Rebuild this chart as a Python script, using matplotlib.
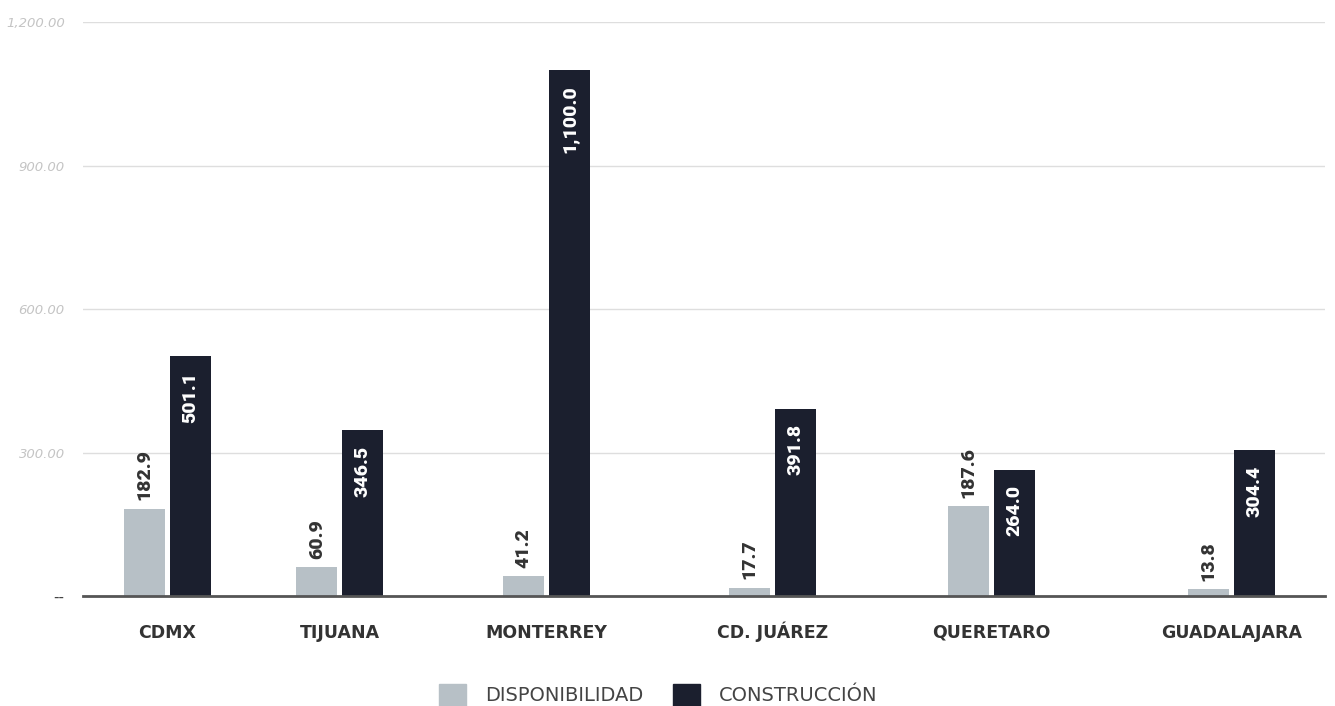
# Disponibilidad vs construcción por ciudad
import numpy as np
import matplotlib.pyplot as plt
from matplotlib.patches import Patch
from matplotlib.ticker import FuncFormatter

# Datos
ciudades = ['CDMX', 'TIJUANA', 'MONTERREY', 'CD. JUÁREZ', 'QUERETARO', 'GUADALAJARA']
disponibilidad = [182.9, 60.9, 41.2, 17.7, 187.6, 13.8]
construccion = [501.1, 346.5, 1100.0, 391.8, 264.0, 304.4]
series = ['DISPONIBILIDAD', 'CONSTRUCCIÓN']

# Centros de cada grupo sobre el eje (fracción del ancho)
centros = np.array([0.068, 0.207, 0.373, 0.555, 0.7315, 0.9245])
ancho = 0.033
sep = 0.0185

c_gris = '#b7c0c6'
c_osc = '#1b1f2e'

fig = plt.figure(figsize=(13.35, 7.06), dpi=100)
ax = fig.add_axes([0.062, 0.1558, 0.9305, 0.813])

b1 = ax.bar(centros - sep, disponibilidad, ancho, color=c_gris, zorder=3)
b2 = ax.bar(centros + sep, construccion, ancho, color=c_osc, zorder=3)

# Etiquetas de valor
for r, v in zip(b1, disponibilidad):
    ax.annotate(f'{v:,.1f}', (r.get_x() + r.get_width() / 2, v),
                xytext=(0, 6), textcoords='offset points', rotation=90,
                ha='center', va='bottom', color='#333333',
                fontsize=14, fontweight='black', family='Roboto')
for r, v in zip(b2, construccion):
    ax.annotate(f'{v:,.1f}', (r.get_x() + r.get_width() / 2, v),
                xytext=(0, -11), textcoords='offset points', rotation=90,
                ha='center', va='top', color='white',
                fontsize=14, fontweight='black', family='Roboto')

ax.set_xlim(0, 1)
ax.set_ylim(0, 1200)
ax.set_yticks([0, 300, 600, 900, 1200])
ax.yaxis.set_major_formatter(FuncFormatter(lambda v, p: '--' if v == 0 else f'{v:,.2f}'))
for t in ax.get_yticklabels():
    t.set_fontstyle('italic')
    t.set_color('#c4c4c4')
    t.set_fontsize(9.5)
cero = ax.get_yticklabels()[0]
cero.set_color('#444444')
cero.set_fontstyle('normal')
cero.set_fontsize(11)
ax.tick_params(axis='y', length=0, pad=13)

ax.set_xticks(centros)
ax.set_xticklabels(ciudades, fontsize=12.5, fontweight='bold', color='#333333')
for t in ax.get_xticklabels():
    t.set_va('baseline')
ax.tick_params(axis='x', length=0, pad=30)

ax.grid(axis='y', color='#dedede', linewidth=1, zorder=0)
for s in ['top', 'right', 'left']:
    ax.spines[s].set_visible(False)
ax.spines['bottom'].set_color('#555555')
ax.spines['bottom'].set_linewidth(2)
ax.spines['bottom'].set_zorder(4)

handles = [Patch(color=c_gris), Patch(color=c_osc)]
fig.legend(handles, series, loc='lower center', bbox_to_anchor=(0.493, -0.025),
           ncol=2, frameon=False, fontsize=14, handlelength=1.4, handleheight=1.4,
           handletextpad=1.0, columnspacing=1.5, labelcolor='#444444')

plt.savefig('out.png', dpi=100)
